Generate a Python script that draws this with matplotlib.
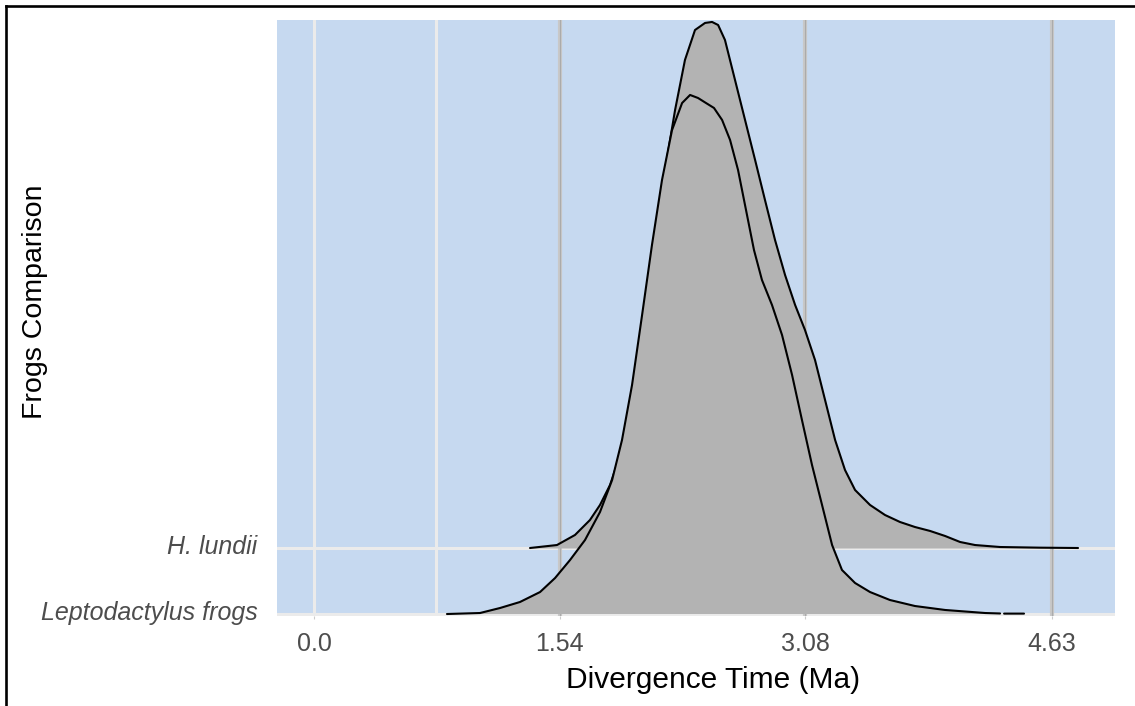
import numpy as np
import matplotlib.pyplot as plt
import matplotlib.transforms as mtransforms
from matplotlib.lines import Line2D

plt.rcParams['font.family'] = ['Liberation Sans', 'DejaVu Sans']

groups = ['Leptodactylus frogs', 'H. lundii']

# ridge outlines (x in Ma, height in row units)
lundii_x = [1.355, 1.524, 1.637, 1.731, 1.794, 1.857, 1.920, 1.970, 2.014, 2.077,
            2.139, 2.202, 2.265, 2.327, 2.390, 2.453, 2.497, 2.535, 2.578, 2.641,
            2.704, 2.767, 2.829, 2.892, 2.955, 3.018, 3.080, 3.143, 3.206, 3.269,
            3.331, 3.394, 3.488, 3.582, 3.676, 3.770, 3.865, 3.959, 4.053, 4.147,
            4.304, 4.555, 4.793]
lundii_h = [0.0, 0.045, 0.197, 0.424, 0.652, 0.955, 1.409, 1.939, 2.545, 3.606,
            4.667, 5.727, 6.636, 7.394, 7.848, 7.955, 7.970, 7.924, 7.697, 7.091,
            6.485, 5.879, 5.273, 4.667, 4.136, 3.682, 3.303, 2.848, 2.242, 1.636,
            1.182, 0.879, 0.652, 0.500, 0.394, 0.318, 0.258, 0.182, 0.091, 0.045,
            0.015, 0.005, 0.0]

lepto_x = [0.834, 1.041, 1.167, 1.292, 1.418, 1.512, 1.606, 1.700, 1.794, 1.870,
           1.932, 1.995, 2.058, 2.120, 2.183, 2.246, 2.309, 2.359, 2.409, 2.459,
           2.509, 2.560, 2.610, 2.660, 2.710, 2.760, 2.810, 2.873, 2.936, 2.999,
           3.061, 3.124, 3.187, 3.250, 3.312, 3.394, 3.488, 3.613, 3.770, 3.959,
           4.210, 4.304, 4.316, 4.329, 4.454]
lepto_h = [0.0, 0.015, 0.091, 0.182, 0.333, 0.545, 0.818, 1.121, 1.545, 2.030,
           2.636, 3.470, 4.530, 5.591, 6.576, 7.333, 7.742, 7.864, 7.818, 7.742,
           7.667, 7.485, 7.182, 6.727, 6.121, 5.515, 5.061, 4.682, 4.227, 3.621,
           2.939, 2.258, 1.652, 1.045, 0.667, 0.470, 0.333, 0.212, 0.121, 0.061,
           0.015, 0.008, np.nan, 0.006, 0.006]

x_ticks = [0.0, 1.54, 3.08, 4.63]
x_ticklabels = ['0.0', '1.54', '3.08', '4.63']
marked_lines = [1.54, 3.08, 4.63]
white_lines = [0.0, 0.765]

fig = plt.figure(figsize=(11.35, 7.06), dpi=100)
ax = fig.add_axes([0.2441, 0.1275, 0.7383, 0.8442])
ax.set_facecolor('#c6d9f0')

for v in white_lines:
    ax.axvline(v, color='#ebebeb', lw=2.2, zorder=1)
for i in range(len(groups)):
    ax.axhline(i + 1, color='#ebebeb', lw=2.2, zorder=1)
for v in marked_lines:
    ax.axvline(v, color='#c8c8c8', lw=3.0, zorder=1.5)
    ax.axvline(v, color='#ababab', lw=0.8, zorder=1.6)

# top row first, lower row drawn over it
ridges = [(lundii_x, lundii_h, 2), (lepto_x, lepto_h, 1)]
for k, (xs, hs, base) in enumerate(ridges):
    xs = np.array(xs)
    ys = base + np.array(hs, dtype=float)
    ax.fill_between(xs, base, ys, color='#b3b3b3', lw=0, zorder=3 + 2 * k)
    ax.plot(xs, ys, color='black', lw=1.5, zorder=4 + 2 * k,
            solid_joinstyle='round', solid_capstyle='round')

ax.set_xlim(-0.232, 5.025)
ax.set_ylim(0.97, 10.0)
ax.set_xticks(x_ticks)
ax.set_xticklabels(x_ticklabels)
ax.set_yticks([1, 2])
ax.set_yticklabels(groups, style='italic')
ax.tick_params(axis='x', colors='#4d4d4d', labelsize=18, length=2.5, width=0.8,
               pad=9, color='#cccccc')
ax.tick_params(axis='y', colors='#4d4d4d', labelsize=18, length=0, pad=14)
shift = mtransforms.ScaledTranslation(0, 4 / 100, fig.dpi_scale_trans)
for lab in ax.get_yticklabels():
    lab.set_transform(lab.get_transform() + shift)
for s in ax.spines.values():
    s.set_visible(False)

ax.set_xlabel('Divergence Time (Ma)', fontsize=21.5, color='black')
ax.xaxis.set_label_coords(0.520, -0.107)
ax.xaxis.label.set_va('center')
ax.set_ylabel('Frogs Comparison', fontsize=20.5, color='black', va='center')
ax.yaxis.set_label_coords(-0.289, 0.527)

fig.add_artist(Line2D([0.0053, 1.0], [0.9915, 0.9915], color='black', lw=1.9,
                      transform=fig.transFigure))
fig.add_artist(Line2D([0.0053, 0.0053], [0.0, 0.9915], color='black', lw=1.9,
                      transform=fig.transFigure))

fig.savefig('out.png', dpi=100)
